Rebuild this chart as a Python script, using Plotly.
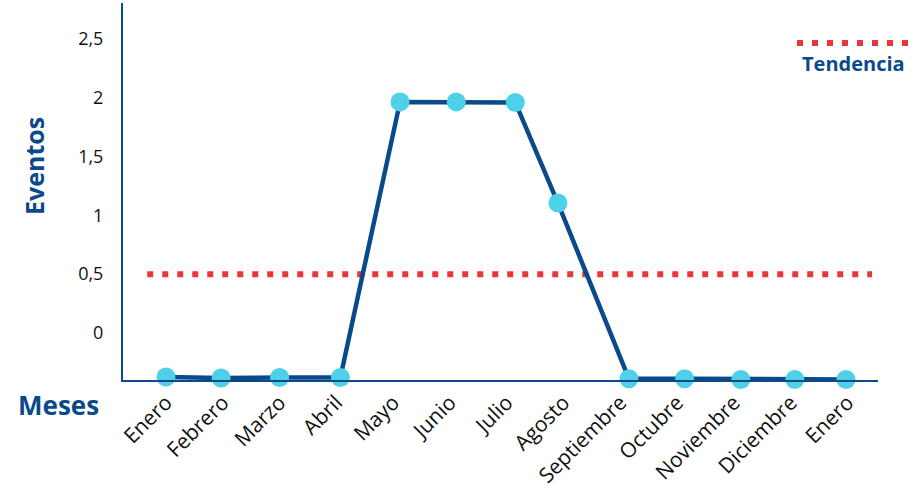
import plotly.graph_objects as go

months = ["Enero", "Febrero", "Marzo", "Abril", "Mayo", "Junio", "Julio", "Agosto",
          "Septiembre", "Octubre", "Noviembre", "Diciembre", "Enero"]
tick_pos = list(range(13))
# point positions (slightly off the category ticks)
point_x = [0.0, 0.97, 2.0, 3.07, 4.12, 5.11, 6.15, 6.9, 8.15, 9.13, 10.12, 11.07, 11.97]
eventos = [-0.375, -0.383, -0.378, -0.378, 1.965, 1.965, 1.96, 1.105,
           -0.39, -0.39, -0.395, -0.395, -0.395]
trend_x = [-0.33, 12.43]
trend_y = [0.5, 0.5]
y_ticks = [0, 0.5, 1, 1.5, 2, 2.5]

BLUE = "#0a4a8a"
CYAN = "#4dd0e8"
RED = "#e8363c"
FONT = "Open Sans"

fig = go.Figure()
fig.add_trace(go.Scatter(x=trend_x, y=trend_y, mode="lines",
                         line=dict(color=RED, width=6, dash="6px,9px"),
                         showlegend=False, hoverinfo="skip"))
fig.add_trace(go.Scatter(x=point_x, y=eventos, mode="lines+markers",
                         line=dict(color=BLUE, width=4.5),
                         marker=dict(color=CYAN, size=19),
                         cliponaxis=False, showlegend=False))

fig.update_layout(
    width=922, height=485,
    margin=dict(l=123, r=44, t=3, b=105, autoexpand=False),
    paper_bgcolor="white", plot_bgcolor="white",
    separators=",.",
    font=dict(family=FONT, size=17, color="#111111"),
    xaxis=dict(range=[-0.757, 12.535], tickvals=tick_pos, ticktext=months,
               tickangle=-45, showgrid=False, zeroline=False, automargin=False,
               showline=True, linecolor=BLUE, linewidth=2,
               ticks="",
               tickfont=dict(size=21, family=FONT, color="#111111")),
    yaxis=dict(range=[-0.40, 2.806], tickvals=y_ticks, showgrid=False,
               zeroline=False, showline=True, linecolor=BLUE, linewidth=2,
               automargin=False,
               ticks="outside", ticklen=14, tickcolor="rgba(0,0,0,0)",
               tickfont=dict(size=18, family=FONT, color="#111111")),
)

# legend (dots above the label)
fig.add_shape(type="line", xref="paper", yref="paper",
              x0=(797 - 123) / 755, x1=(912 - 123) / 755,
              y0=(380 - 43) / 377, y1=(380 - 43) / 377,
              line=dict(color=RED, width=6, dash="6px,9px"))
fig.add_annotation(text="<b>Tendencia</b>", xref="paper", yref="paper",
                   x=(853 - 123) / 755, y=(380 - 63) / 377, showarrow=False,
                   font=dict(family=FONT, size=20, color=BLUE),
                   xanchor="center", yanchor="middle")
fig.add_annotation(text="<b>Eventos</b>", xref="paper", yref="paper",
                   x=(34 - 123) / 755, y=(380 - 166) / 377, showarrow=False,
                   textangle=-90,
                   font=dict(family=FONT, size=25, color=BLUE),
                   xanchor="center", yanchor="middle")
fig.add_annotation(text="<b>Meses</b>", xref="paper", yref="paper",
                   x=(58 - 123) / 755, y=(380 - 405) / 377, showarrow=False,
                   font=dict(family=FONT, size=26, color=BLUE),
                   xanchor="center", yanchor="middle")

fig.write_html("out.html")
